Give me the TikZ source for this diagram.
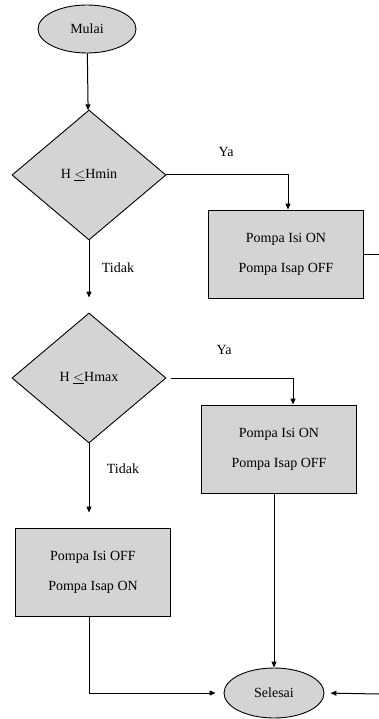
\documentclass[tikz,border=0pt]{standalone}
\usepackage{fontspec}
\setmainfont{Liberation Serif}
\usetikzlibrary{shapes.geometric}
\usetikzlibrary{arrows.meta}

\begin{document}
\begin{tikzpicture}[x=1pt,y=1pt,
    font=\fontsize{14}{16}\selectfont,
    terminal/.style={ellipse,draw,fill=black!17,line width=0.9pt,
      minimum width=98pt,minimum height=48pt,inner sep=0pt},
    decision/.style={diamond,draw,fill=black!17,line width=0.9pt,
      minimum width=154pt,minimum height=130pt,inner sep=0pt},
    process/.style={rectangle,draw,fill=black!17,line width=0.9pt,
      minimum width=155pt,minimum height=88pt,align=center},
    flow/.style={line width=1pt,-{Triangle[length=6pt,width=5pt]}},
    label/.style={inner sep=0pt}]
  \useasboundingbox (0,0) rectangle (379,-719);

  % nodes
  \node[terminal] (mulai) at (87,-29) {Mulai};
  \node[decision] (hmin) at (89,-175) {H $\underline{<}$Hmin};
  \node[process] (isi1) at (286,-254) {Pompa Isi ON\\[14pt]Pompa Isap OFF};
  \node[decision] (hmax) at (89,-378) {H $\underline{<}$Hmax};
  \node[process] (isi2) at (279,-449) {Pompa Isi ON\\[14pt]Pompa Isap OFF};
  \node[process] (isap) at (93,-572) {Pompa Isi OFF\\[14pt]Pompa Isap ON};
  \node[terminal,minimum width=100pt,minimum height=50pt] (selesai) at (274,-693) {Selesai};
  \coordinate (kanan1) at (379,-254);
  \coordinate (kanan2) at (379,-694);

  % labels
  \node[label] (ya1) at (226,-152) {Ya};
  \node[label] (tidak1) at (118,-268) {Tidak};
  \node[label] (ya2) at (224,-350) {Ya};
  \node[label] (tidak2) at (123,-469) {Tidak};

  % connectors
  \draw[flow] (mulai) -- (hmin);
  \draw[flow] (hmin.east) -| (isi1.north -| 288,0);
  \draw[line width=1pt] (isi1.east) -- (kanan1);
  \draw[flow,shorten >=15pt] (hmin.south) -- (hmax.north);
  \draw[flow,shorten <=5pt] (hmax.east) -| (isi2.north -| 293,0);
  \draw[flow,shorten >=15pt] (hmax.south) -- (isap.north -| hmax.south);
  \draw[flow] (isi2.south -| selesai.north) -- (selesai.north);
  \draw[flow,shorten >=8pt] (isap.south -| 89,0) |- (selesai.west);
  \draw[flow,shorten >=6pt] (kanan2) -- (selesai.east);
\end{tikzpicture}
\end{document}
